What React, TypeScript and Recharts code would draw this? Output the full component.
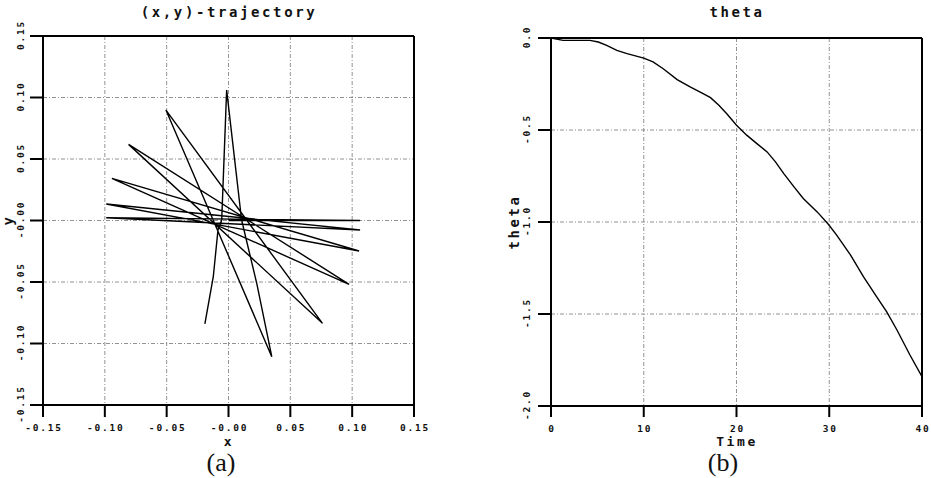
import React from 'react';
import { LineChart, Line, XAxis, YAxis, CartesianGrid, ReferenceLine } from 'recharts';

// (x,y) trajectory, in path order
const trajX = [0, 0.1064, -0.0988, 0.1064, -0.0988, 0.1056, -0.0943, 0.0975, -0.0808, 0.076, -0.0506, 0.035, 0.0228, 0.0106, -0.0015, -0.0055, -0.0085, -0.0123, -0.0191];
const trajY = [0, 0, 0.0022, -0.0077, 0.0134, -0.0248, 0.0343, -0.0519, 0.0619, -0.0836, 0.0898, -0.1107, -0.051, 0.0004, 0.106, 0.0004, -0.0077, -0.0457, -0.084];
const xyTicks = [-0.15, -0.1, -0.05, 0, 0.05, 0.1, 0.15];
const xyTickLabels = ['-0.15', '-0.10', '-0.05', '-0.00', '0.05', '0.10', '0.15'];

// theta vs time
const timeVals = [0, 1.3, 4.2, 5.1, 6, 7.1, 8.2, 10, 11, 12.1, 13.6, 15, 16.4, 17.2, 18.1, 19, 20, 21.1, 22.2, 23.3, 24.2, 25.1, 26.2, 27.2, 28.7, 29.9, 30.8, 32.3, 33.7, 35.1, 36.2, 37.3, 38.7, 40];
const thetaVals = [0, -0.013, -0.013, -0.022, -0.04, -0.067, -0.085, -0.109, -0.13, -0.167, -0.226, -0.266, -0.302, -0.324, -0.366, -0.414, -0.474, -0.528, -0.574, -0.619, -0.673, -0.737, -0.809, -0.872, -0.945, -1.012, -1.071, -1.18, -1.298, -1.406, -1.488, -1.587, -1.723, -1.841];
const timeTicks = [0, 10, 20, 30, 40];
const thetaTicks = [0, -0.5, -1, -1.5, -2];
const thetaTickLabels = ['0.0', '-0.5', '-1.0', '-1.5', '-2.0'];

const trajData = trajX.map((x, i) => ({ x, y: trajY[i] }));
const thetaData = timeVals.map((t, i) => ({ t, theta: thetaVals[i] }));

const mono = '"DejaVu Sans Mono", "Liberation Mono", monospace';
const tickStyle = { fontFamily: mono, fontWeight: 700, fontSize: 9.5, letterSpacing: 1.8, fill: '#111' };
const gridProps = { stroke: '#777', strokeDasharray: '4 2 1 2', strokeWidth: 0.8 };

const XTick = (labels: string[], ticks: number[], labelY: number) => (p: any) => {
  const i = ticks.findIndex(v => Math.abs(v - p.payload.value) < 1e-9);
  return (
    <text x={p.x + 1} y={labelY} textAnchor="middle" dominantBaseline="middle" style={tickStyle}>
      {labels[i]}
    </text>
  );
};

const YTick = (labels: string[], ticks: number[], labelX: number) => (p: any) => {
  const i = ticks.findIndex(v => Math.abs(v - p.payload.value) < 1e-9);
  return (
    <text transform={`translate(${labelX},${p.y}) rotate(-90)`} x={1} textAnchor="middle" dominantBaseline="middle" style={tickStyle}>
      {labels[i]}
    </text>
  );
};

// outward tick marks drawn as short reference segments in data units
const xTickMarks = (ticks: number[], yBase: number, len: number) =>
  ticks.map(v => (
    <ReferenceLine key={'xt' + v} segment={[{ x: v, y: yBase }, { x: v, y: yBase - len }]}
      stroke="#000" strokeWidth={2} ifOverflow="visible" />
  ));
const yTickMarks = (ticks: number[], xBase: number, len: number) =>
  ticks.map(v => (
    <ReferenceLine key={'yt' + v} segment={[{ x: xBase - len, y: v }, { x: xBase, y: v }]}
      stroke="#000" strokeWidth={2} ifOverflow="visible" />
  ));

const bigText = { fontFamily: mono, fontWeight: 700, fontSize: 14, letterSpacing: 2.6, fill: '#111' };
const capText = { fontFamily: '"Liberation Serif", "Times New Roman", serif', fontSize: 26, fill: '#111' };

export default function App() {
  return (
    <div style={{ position: 'absolute', left: 0, top: 0, width: 931, height: 478, background: '#fff' }}>
      <div style={{ position: 'absolute', left: 0, top: 0 }}>
        <LineChart width={470} height={478} data={trajData} margin={{ top: 36, left: 42, right: 56, bottom: 72 }}>
          <CartesianGrid {...gridProps} />
          <XAxis dataKey="x" type="number" domain={[-0.15, 0.15]} ticks={xyTicks} height={1}
            allowDataOverflow axisLine={{ stroke: '#000', strokeWidth: 2 }} tickLine={false}
            tick={XTick(xyTickLabels, xyTicks, 428)} interval={0} />
          <YAxis type="number" domain={[-0.15, 0.15]} ticks={xyTicks} width={1}
            allowDataOverflow axisLine={{ stroke: '#000', strokeWidth: 2 }} tickLine={false}
            tick={YTick(xyTickLabels, xyTicks, 21)} interval={0} />
          <ReferenceLine y={0.15} stroke="#000" strokeWidth={2} ifOverflow="visible" />
          <ReferenceLine x={0.15} stroke="#000" strokeWidth={2} ifOverflow="visible" />
          {xTickMarks(xyTicks, -0.15, 0.0098)}
          {yTickMarks(xyTicks, -0.15, 0.0105)}
          <Line type="linear" dataKey="y" stroke="#000" strokeWidth={1.4} dot={false} isAnimationActive={false} />
        </LineChart>
      </div>
      <div style={{ position: 'absolute', left: 470, top: 0 }}>
        <LineChart width={461} height={478} data={thetaData} margin={{ top: 38, left: 80, right: 9, bottom: 71 }}>
          <CartesianGrid {...gridProps} />
          <XAxis dataKey="t" type="number" domain={[0, 40]} ticks={timeTicks} height={1}
            allowDataOverflow axisLine={{ stroke: '#000', strokeWidth: 2 }} tickLine={false}
            tick={XTick(timeTicks.map(String), timeTicks, 429)} interval={0} />
          <YAxis type="number" domain={[-2, 0]} ticks={thetaTicks} width={1}
            allowDataOverflow axisLine={{ stroke: '#000', strokeWidth: 2 }} tickLine={false}
            tick={YTick(thetaTickLabels, thetaTicks, 57)} interval={0} />
          <ReferenceLine y={0} stroke="#000" strokeWidth={2} ifOverflow="visible" />
          <ReferenceLine x={40} stroke="#000" strokeWidth={2} ifOverflow="visible" />
          {xTickMarks(timeTicks, -2, 0.06)}
          {yTickMarks(thetaTicks, 0, 1.4)}
          <Line type="linear" dataKey="theta" stroke="#000" strokeWidth={1.4} dot={false} isAnimationActive={false} />
        </LineChart>
      </div>
      <svg width={931} height={478} style={{ position: 'absolute', left: 0, top: 0, pointerEvents: 'none' }}>
        <text x={229} y={13} textAnchor="middle" dominantBaseline="middle" style={bigText}>(x,y)-trajectory</text>
        <text x={229} y={442} textAnchor="middle" dominantBaseline="middle" style={{ ...bigText, fontSize: 13 }}>x</text>
        <text transform="translate(9,220) rotate(-90)" textAnchor="middle" dominantBaseline="middle" style={bigText}>y</text>
        <text x={221} y={471} textAnchor="middle" style={capText}>(a)</text>
        <text x={737} y={13} textAnchor="middle" dominantBaseline="middle" style={bigText}>theta</text>
        <text x={737} y={442} textAnchor="middle" dominantBaseline="middle" style={{ ...bigText, fontSize: 13 }}>Time</text>
        <text transform="translate(515,222) rotate(-90)" textAnchor="middle" dominantBaseline="middle" style={bigText}>theta</text>
        <text x={723} y={471} textAnchor="middle" style={capText}>(b)</text>
      </svg>
    </div>
  );
}
